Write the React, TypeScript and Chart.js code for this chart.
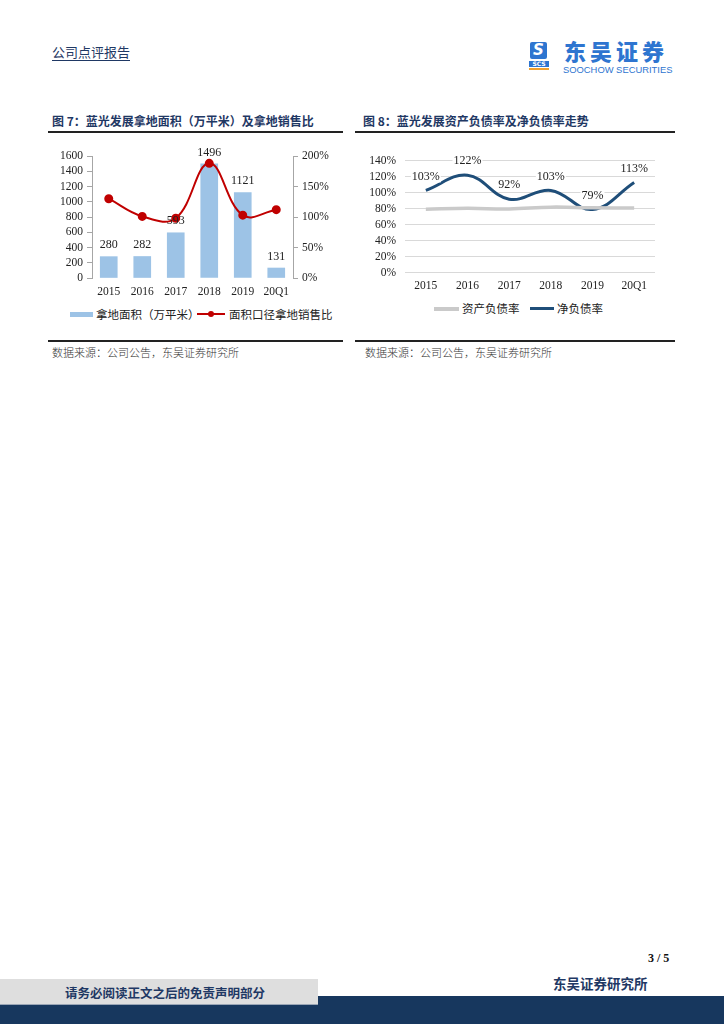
import React, { useEffect, useRef } from "react";
import { Chart, registerables } from "chart.js";

Chart.register(...registerables);

const categories = ["2015", "2016", "2017", "2018", "2019", "20Q1"];
const landArea = [280, 282, 593, 1496, 1121, 131];
const landSalesRatio = [1.3, 1.01, 0.98, 1.88, 1.03, 1.12];
const leftTicks = [0, 200, 400, 600, 800, 1000, 1200, 1400, 1600];
const assetLiability = [0.795, 0.805, 0.798, 0.82, 0.812, 0.808];
const netDebt = [1.03, 1.22, 0.92, 1.03, 0.79, 1.13];

const SERIF = "'Liberation Serif', 'Times New Roman', serif";
const CJK = "'Noto Sans CJK SC', sans-serif";
const NAVY = "#1F3864";

const barLabelPlugin = {
  id: "barLabels",
  afterDatasetsDraw(chart: any) {
    const ctx = chart.ctx;
    const meta = chart.getDatasetMeta(0);
    ctx.save();
    ctx.font = `12px ${SERIF}`;
    ctx.fillStyle = "#222";
    ctx.textAlign = "center";
    ctx.textBaseline = "middle";
    meta.data.forEach((el: any, i: number) => {
      ctx.fillText(String(landArea[i]), el.x, el.y - 11.5);
    });
    ctx.restore();
  },
};

const netDebtLabelPlugin = {
  id: "netDebtLabels",
  afterDatasetsDraw(chart: any) {
    const ctx = chart.ctx;
    const meta = chart.getDatasetMeta(1);
    ctx.save();
    ctx.font = `12px ${SERIF}`;
    ctx.textAlign = "center";
    ctx.textBaseline = "middle";
    meta.data.forEach((el: any, i: number) => {
      const t = Math.round(netDebt[i] * 100) + "%";
      const w = ctx.measureText(t).width;
      ctx.fillStyle = "#fff";
      ctx.fillRect(el.x - w / 2 - 1, el.y - 14 - 6, w + 2, 12);
      ctx.fillStyle = "#222";
      ctx.fillText(t, el.x, el.y - 14);
    });
    ctx.restore();
  },
};

function LandChart() {
  const ref = useRef<HTMLCanvasElement>(null);
  useEffect(() => {
    const chart = new Chart(ref.current!, {
      type: "bar",
      data: {
        labels: categories,
        datasets: [
          {
            type: "bar",
            label: "拿地面积（万平米）",
            data: landArea,
            backgroundColor: "#9DC3E6",
            barThickness: 17,
            yAxisID: "y",
            order: 2,
          },
          {
            type: "line",
            label: "面积口径拿地销售比",
            data: landSalesRatio,
            borderColor: "#C00000",
            backgroundColor: "#C00000",
            borderWidth: 2,
            pointRadius: 3.5,
            pointBackgroundColor: "#C00000",
            pointBorderColor: "#C00000",
            tension: 0.4,
            yAxisID: "y1",
            order: 1,
          },
        ] as any,
      },
      options: {
        animation: false,
        responsive: false,
        maintainAspectRatio: false,
        layout: { padding: { top: 16, left: 0, right: 0, bottom: 0 } },
        plugins: { legend: { display: false }, tooltip: { enabled: false } },
        scales: {
          x: {
            offset: true,
            grid: { display: false, drawTicks: false },
            border: { display: false },
            ticks: { padding: 7, autoSkip: false, maxRotation: 0, color: "#222", font: { family: SERIF, size: 11.5 } },
            afterFit: (s: any) => { s.height = 27; },
          },
          y: {
            position: "left",
            min: 0,
            max: 1600,
            afterBuildTicks: (s: any) => { s.ticks = leftTicks.map((v) => ({ value: v })); },
            grid: { drawOnChartArea: false, drawTicks: true, tickLength: 5, color: "#A6A6A6" },
            border: { display: true, color: "#A6A6A6" },
            ticks: { padding: 4, autoSkip: false, color: "#222", font: { family: SERIF, size: 11.5 }, callback: (v: any) => String(v) },
            afterFit: (s: any) => { s.width = 44; },
          },
          y1: {
            position: "right",
            min: 0,
            max: 2,
            ticks: {
              stepSize: 0.5,
              padding: 4,
              autoSkip: false,
              color: "#222",
              font: { family: SERIF, size: 11.5 },
              callback: (v: any) => Math.round(Number(v) * 100) + "%",
            },
            grid: { drawOnChartArea: false, drawTicks: true, tickLength: 5, color: "#A6A6A6" },
            border: { display: true, color: "#A6A6A6" },
            afterFit: (s: any) => { s.width = 50; },
          },
        },
      } as any,
      plugins: [barLabelPlugin],
    });
    return () => chart.destroy();
  }, []);
  return <canvas ref={ref} width={295} height={165} style={{ position: "absolute", left: 48, top: 140, width: 295, height: 165 }} />;
}

function DebtChart() {
  const ref = useRef<HTMLCanvasElement>(null);
  useEffect(() => {
    const chart = new Chart(ref.current!, {
      type: "line",
      data: {
        labels: categories,
        datasets: [
          {
            label: "资产负债率",
            data: assetLiability,
            borderColor: "#CACACA",
            borderWidth: 3.5,
            pointRadius: 0,
            tension: 0.4,
          },
          {
            label: "净负债率",
            data: netDebt,
            borderColor: "#1F4E79",
            borderWidth: 3,
            pointRadius: 0,
            tension: 0.4,
          },
        ],
      },
      options: {
        animation: false,
        responsive: false,
        maintainAspectRatio: false,
        layout: { padding: { top: 15, left: 0, right: 20, bottom: 0 } },
        plugins: { legend: { display: false }, tooltip: { enabled: false } },
        scales: {
          x: {
            offset: true,
            grid: { display: false, drawTicks: false },
            border: { display: false },
            ticks: { padding: 7, autoSkip: false, maxRotation: 0, color: "#222", font: { family: SERIF, size: 11.5 } },
            afterFit: (s: any) => { s.height = 24.5; },
          },
          y: {
            min: 0,
            max: 1.4,
            ticks: {
              stepSize: 0.2,
              padding: 9,
              autoSkip: false,
              color: "#222",
              font: { family: SERIF, size: 11.5 },
              callback: (v: any) => Math.round(Number(v) * 100) + "%",
            },
            grid: { color: "#D9D9D9", drawTicks: false },
            border: { display: false },
            afterFit: (s: any) => { s.width = 50; },
          },
        },
      } as any,
      plugins: [netDebtLabelPlugin],
    });
    return () => chart.destroy();
  }, []);
  return <canvas ref={ref} width={320} height={152} style={{ position: "absolute", left: 355, top: 145, width: 320, height: 152 }} />;
}

const abs = (l: number, t: number, extra: any = {}) => ({ position: "absolute" as const, left: l, top: t, ...extra });

export default function App() {
  const titleStyle = { fontFamily: CJK, fontWeight: 700, fontSize: 12, color: NAVY, whiteSpace: "nowrap" as const, lineHeight: "14px" };
  const srcStyle = { fontFamily: CJK, fontSize: 11, color: "#333", whiteSpace: "nowrap" as const, lineHeight: "13px", fontWeight: 300 };
  const legText = { fontFamily: CJK, fontSize: 11.5, color: "#222", whiteSpace: "nowrap" as const, lineHeight: "14px" };
  return (
    <div style={{ position: "absolute", left: 0, top: 0, width: 724, height: 1024, overflow: "hidden", background: "#fff" }}>
      {/* header */}
      <div style={abs(52, 44, { fontFamily: CJK, fontSize: 13, color: NAVY, lineHeight: "15px", borderBottom: "1px solid " + NAVY, paddingBottom: 1, whiteSpace: "nowrap" })}>公司点评报告</div>
      <div style={abs(530, 42, { width: 17, height: 17, background: "#2E75D0", borderRadius: 2, color: "#fff", fontFamily: "'DejaVu Sans', sans-serif", fontWeight: 700, fontStyle: "italic", fontSize: 15, lineHeight: "17px", textAlign: "center" })}>S</div>
      <div style={abs(529, 61, { width: 20, height: 6, background: "#2E75D0", color: "#fff", fontFamily: "'DejaVu Sans', sans-serif", fontWeight: 700, fontSize: 6, lineHeight: "6px", textAlign: "center" })}>SCS</div>
      <div style={abs(529, 68, { width: 20, height: 2, background: "#F0A030" })} />
      <div style={abs(564, 39, { fontFamily: CJK, fontWeight: 900, fontSize: 22, color: "#2E75D0", lineHeight: "22px", letterSpacing: 4, whiteSpace: "nowrap" })}>东吴证券</div>
      <div style={abs(563, 65, { fontFamily: "'Liberation Sans', Arial, sans-serif", fontSize: 9.4, color: "#2E75D0", lineHeight: "9px", whiteSpace: "nowrap" })}>SOOCHOW SECURITIES</div>

      {/* chart 1 */}
      <div style={abs(52, 114, titleStyle)}>图 7：蓝光发展拿地面积（万平米）及拿地销售比</div>
      <div style={abs(48, 131, { width: 295, height: 2, background: "#222" })} />
      <LandChart />
      <div style={abs(70, 312, { width: 23, height: 5, background: "#9DC3E6" })} />
      <div style={abs(96, 307, legText)}>拿地面积（万平米）</div>
      <div style={abs(197, 313, { width: 28, height: 2, background: "#C00000" })} />
      <div style={abs(208, 311, { width: 6, height: 6, borderRadius: 3, background: "#C00000" })} />
      <div style={abs(229, 307, legText)}>面积口径拿地销售比</div>
      <div style={abs(48, 340, { width: 295, height: 2, background: "#222" })} />
      <div style={abs(52, 346, srcStyle)}>数据来源：公司公告，东吴证券研究所</div>

      {/* chart 2 */}
      <div style={abs(363, 114, titleStyle)}>图 8：蓝光发展资产负债率及净负债率走势</div>
      <div style={abs(355, 131, { width: 320, height: 2, background: "#222" })} />
      <DebtChart />
      <div style={abs(434, 307, { width: 25, height: 3.5, background: "#CACACA" })} />
      <div style={abs(462, 301, legText)}>资产负债率</div>
      <div style={abs(530, 307, { width: 24, height: 3, background: "#1F4E79" })} />
      <div style={abs(557, 301, legText)}>净负债率</div>
      <div style={abs(355, 340, { width: 320, height: 2, background: "#222" })} />
      <div style={abs(365, 346, srcStyle)}>数据来源：公司公告，东吴证券研究所</div>

      {/* footer */}
      <div style={abs(648, 951, { fontFamily: SERIF, fontWeight: 700, fontSize: 12, color: "#111", lineHeight: "14px", whiteSpace: "nowrap" })}>3 / 5</div>
      <div style={abs(553, 975, { fontFamily: CJK, fontWeight: 700, fontSize: 13.5, color: NAVY, lineHeight: "16px", whiteSpace: "nowrap" })}>东吴证券研究所</div>
      <div style={abs(0, 996, { width: 724, height: 28, background: "#17375E" })} />
      <div style={abs(0, 979, { width: 318, height: 26, background: "#DEDEDE", borderBottom: "1px solid #9AA5B5", boxSizing: "border-box" })} />
      <div style={abs(65, 985, { fontFamily: CJK, fontWeight: 700, fontSize: 12.5, color: NAVY, lineHeight: "15px", whiteSpace: "nowrap" })}>请务必阅读正文之后的免责声明部分</div>
    </div>
  );
}
